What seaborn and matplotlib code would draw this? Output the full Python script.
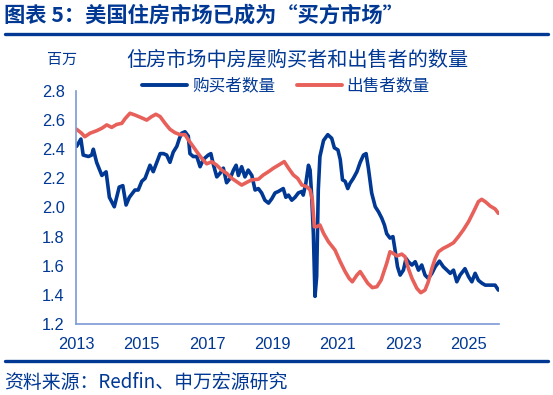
import numpy as np
import pandas as pd
import matplotlib
matplotlib.use("Agg")
import matplotlib.pyplot as plt
from matplotlib.lines import Line2D
import seaborn as sns

# data (decimal year, millions)
buyer_year = [2013.02, 2013.15, 2013.22, 2013.38, 2013.48, 2013.53, 2013.63, 2013.79, 2013.92, 2014.02,
              2014.17, 2014.32, 2014.43, 2014.53, 2014.63, 2014.80, 2014.90, 2015.01, 2015.11, 2015.26,
              2015.36, 2015.47, 2015.57, 2015.67, 2015.77, 2015.87, 2015.97, 2016.08, 2016.16, 2016.23,
              2016.33, 2016.43, 2016.48, 2016.58, 2016.69, 2016.79, 2016.89, 2017.04, 2017.12, 2017.19,
              2017.30, 2017.40, 2017.50, 2017.60, 2017.71, 2017.81, 2017.89, 2017.96, 2018.06, 2018.16,
              2018.26, 2018.37, 2018.47, 2018.57, 2018.67, 2018.77, 2018.88, 2018.98, 2019.08, 2019.18,
              2019.33, 2019.41, 2019.49, 2019.59, 2019.69, 2019.79, 2019.90, 2019.94, 2020.02, 2020.10,
              2020.15, 2020.20, 2020.25, 2020.30, 2020.35, 2020.40, 2020.45, 2020.56, 2020.69, 2020.81,
              2020.89, 2021.00, 2021.07, 2021.14, 2021.22, 2021.30, 2021.37, 2021.47, 2021.58, 2021.68,
              2021.78, 2021.86, 2021.93, 2022.03, 2022.14, 2022.24, 2022.34, 2022.42, 2022.49, 2022.59,
              2022.68, 2022.75, 2022.82, 2022.90, 2023.00, 2023.08, 2023.15, 2023.26, 2023.36, 2023.46,
              2023.56, 2023.66, 2023.76, 2023.87, 2023.97, 2024.10, 2024.22, 2024.33, 2024.43, 2024.53,
              2024.63, 2024.73, 2024.88, 2024.99, 2025.09, 2025.19, 2025.29, 2025.40, 2025.50, 2025.65,
              2025.80, 2025.90]
buyer_value = [2.42, 2.47, 2.36, 2.35, 2.36, 2.40, 2.31, 2.22, 2.245, 2.07,
               2.005, 2.14, 2.15, 2.017, 2.07, 2.12, 2.12, 2.18, 2.20, 2.29,
               2.246, 2.31, 2.37, 2.37, 2.36, 2.31, 2.38, 2.42, 2.475, 2.51,
               2.52, 2.49, 2.37, 2.35, 2.35, 2.28, 2.33, 2.36, 2.37, 2.30,
               2.21, 2.235, 2.27, 2.17, 2.20, 2.257, 2.29, 2.22, 2.28, 2.21,
               2.257, 2.22, 2.12, 2.13, 2.10, 2.05, 2.03, 2.06, 2.10, 2.11,
               2.13, 2.07, 2.085, 2.05, 2.07, 2.10, 2.11, 2.085, 2.166, 2.29,
               2.257, 2.07, 1.82, 1.39, 1.525, 2.12, 2.35, 2.46, 2.50, 2.475,
               2.41, 2.395, 2.33, 2.19, 2.18, 2.13, 2.166, 2.20, 2.246, 2.31,
               2.36, 2.37, 2.27, 2.10, 2.005, 1.97, 1.926, 1.88, 1.82, 1.79,
               1.80, 1.70, 1.593, 1.536, 1.57, 1.65, 1.628, 1.605, 1.628, 1.57,
               1.605, 1.536, 1.513, 1.548, 1.593, 1.632, 1.593, 1.57, 1.548, 1.57,
               1.49, 1.536, 1.58, 1.525, 1.49, 1.548, 1.50, 1.48, 1.467, 1.467,
               1.467, 1.433]

seller_year = [2013.02, 2013.17, 2013.27, 2013.43, 2013.63, 2013.79, 2013.94, 2014.09, 2014.24, 2014.40,
               2014.50, 2014.65, 2014.80, 2014.96, 2015.16, 2015.31, 2015.44, 2015.57, 2015.72, 2015.87,
               2016.02, 2016.18, 2016.33, 2016.43, 2016.58, 2016.69, 2016.84, 2016.99, 2017.15, 2017.30,
               2017.45, 2017.60, 2017.76, 2017.91, 2018.06, 2018.22, 2018.37, 2018.57, 2018.72, 2018.88,
               2019.03, 2019.18, 2019.36, 2019.49, 2019.64, 2019.77, 2019.90, 2020.05, 2020.15, 2020.22,
               2020.28, 2020.35, 2020.45, 2020.56, 2020.71, 2020.91, 2021.07, 2021.22, 2021.34, 2021.44,
               2021.58, 2021.68, 2021.78, 2021.91, 2022.05, 2022.19, 2022.32, 2022.42, 2022.49, 2022.59,
               2022.69, 2022.80, 2022.95, 2023.05, 2023.15, 2023.26, 2023.41, 2023.53, 2023.66, 2023.76,
               2023.87, 2023.97, 2024.07, 2024.22, 2024.37, 2024.53, 2024.68, 2024.83, 2024.99, 2025.14,
               2025.29, 2025.39, 2025.50, 2025.65, 2025.80, 2025.90]
seller_value = [2.537, 2.51, 2.486, 2.51, 2.527, 2.544, 2.567, 2.55, 2.57, 2.578,
                2.61, 2.647, 2.635, 2.62, 2.60, 2.624, 2.64, 2.624, 2.578, 2.537,
                2.514, 2.50, 2.50, 2.465, 2.418, 2.383, 2.338, 2.30, 2.314, 2.29,
                2.257, 2.235, 2.20, 2.177, 2.154, 2.173, 2.19, 2.194, 2.223, 2.246,
                2.27, 2.29, 2.315, 2.27, 2.223, 2.20, 2.154, 2.143, 2.12, 2.05,
                1.868, 1.868, 1.88, 1.823, 1.765, 1.708, 1.628, 1.56, 1.514, 1.49,
                1.536, 1.56, 1.525, 1.48, 1.45, 1.456, 1.502, 1.57, 1.617, 1.696,
                1.685, 1.667, 1.68, 1.662, 1.582, 1.514, 1.445, 1.415, 1.433, 1.49,
                1.582, 1.65, 1.696, 1.72, 1.737, 1.758, 1.80, 1.846, 1.903, 1.97,
                2.04, 2.056, 2.04, 2.01, 1.99, 1.96]

series_names = ["购买者数量", "出售者数量"]
x_ticks = [2013, 2015, 2017, 2019, 2021, 2023, 2025]
y_ticks = [1.2, 1.4, 1.6, 1.8, 2.0, 2.2, 2.4, 2.6, 2.8]

BLUE = "#003894"
RED = "#e8605a"
SPINE = "#7b9ad6"
CJK = ["Noto Sans CJK SC", "DejaVu Sans"]

df = pd.concat([
    pd.DataFrame({"year": buyer_year, "value": buyer_value, "series": series_names[0]}),
    pd.DataFrame({"year": seller_year, "value": seller_value, "series": series_names[1]}),
])

sns.set_style("white")
plt.rcParams["font.family"] = ["Liberation Sans", "Noto Sans CJK SC", "DejaVu Sans"]

fig = plt.figure(figsize=(5.53, 3.95), dpi=100)
ax = fig.add_axes([0.1374, 0.1797, 0.765, 0.59])

sns.lineplot(data=df, x="year", y="value", hue="series", estimator=None,
             palette={series_names[0]: BLUE, series_names[1]: RED},
             linewidth=2.6, ax=ax, legend=False)

ax.set_xlim(2013, 2025.92)
ax.set_ylim(1.2, 2.8)
ax.set_xticks(x_ticks)
ax.set_yticks(y_ticks)
ax.set_yticklabels([f"{v:.1f}" for v in y_ticks])
ax.set_xlabel("")
ax.set_ylabel("")
for s in ["top", "right"]:
    ax.spines[s].set_visible(False)
for s in ["left", "bottom"]:
    ax.spines[s].set_color(SPINE)
    ax.spines[s].set_linewidth(1.2)
ax.tick_params(axis="both", direction="out", length=4, width=1.2, color=SPINE,
               labelcolor=BLUE, labelsize=11.8)
ax.tick_params(axis="x", pad=5)
ax.tick_params(axis="y", pad=4)

handles = [Line2D([], [], color=BLUE, lw=2.8), Line2D([], [], color=RED, lw=2.8)]
fig.legend(handles, series_names, loc="center", bbox_to_anchor=(0.517, 0.782), ncol=2,
           frameon=False, handlelength=2.7, handletextpad=0.3, columnspacing=1.3,
           prop={"family": CJK, "size": 12}, labelcolor=BLUE)

# header and footer
fig.text(0.008, 0.962, "图表 5：美国住房市场已成为“买方市场”", family=CJK, fontsize=15.3,
         fontweight="bold", color=BLUE, ha="left", va="center")
fig.add_artist(Line2D([0.009, 0.991], [0.915, 0.915], color=BLUE, lw=2.4))
fig.text(0.113, 0.848, "百万", family=CJK, fontsize=10.8, color=BLUE, ha="center", va="center")
fig.text(0.538, 0.848, "住房市场中房屋购买者和出售者的数量", family=CJK, fontsize=14.5,
         color=BLUE, ha="center", va="center")
fig.add_artist(Line2D([0.009, 0.991], [0.086, 0.086], color=BLUE, lw=2.4))
fig.text(0.008, 0.033, "资料来源：Redfin、申万宏源研究", family=CJK, fontsize=13.6,
         color=BLUE, ha="left", va="center")

fig.savefig("out.png", dpi=100)
